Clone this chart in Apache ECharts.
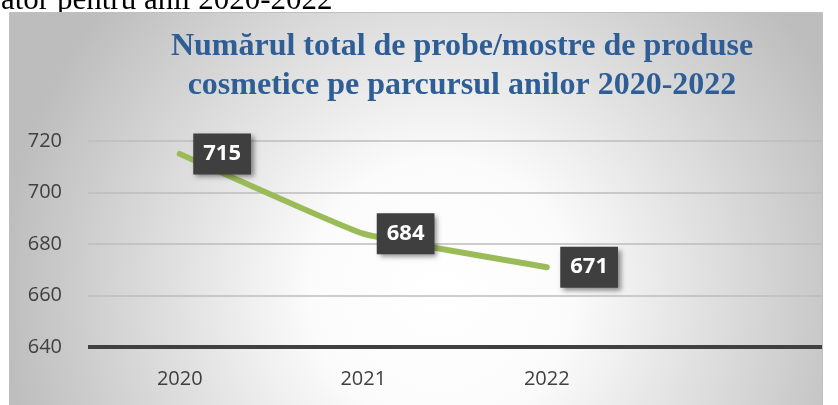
<!DOCTYPE html>
<html>
<head>
<meta charset="utf-8">
<script src="https://cdn.jsdelivr.net/npm/echarts@6/dist/echarts.min.js"></script>
<style>
  html, body { margin: 0; padding: 0; background: #fff; }
  #chart { width: 838px; height: 405px; }
</style>
</head>
<body>
<div id="chart"></div>
<script>
// date
var years = ['2020', '2021', '2022', ''];
var probe = [715, 684, 671];
var yTicks = { min: 640, max: 720, step: 20 };

var titlu = 'Numărul total de probe/mostre de produse\ncosmetice pe parcursul anilor 2020-2022';
var textSus = 'ator pentru anii 2020-2022';

var myChart = echarts.init(document.getElementById('chart'));

var option = {
    animation: false,
    title: {
        text: titlu,
        left: 462,
        top: 27,
        padding: 0,
        textAlign: 'center',
        textStyle: {
            fontFamily: '"Liberation Serif", "Times New Roman", serif',
            fontWeight: 'bold',
            fontSize: 32,
            lineHeight: 39,
            color: '#2f5e97'
        }
    },
    graphic: [
        {
            // textul paginii, taiat de chenarul graficului
            type: 'text',
            z: -200,
            x: 1,
            y: 0.5,
            style: {
                text: textSus,
                font: '31px "Liberation Serif", "Times New Roman", serif',
                fill: '#000',
                verticalAlign: 'middle'
            }
        },
        {
            type: 'rect',
            z: -100,
            shape: { x: 9.5, y: 12.5, width: 813, height: 400 },
            style: {
                fill: new echarts.graphic.RadialGradient(0.53, 0.7, 1.1, [
                    { offset: 0, color: '#ffffff' },
                    { offset: 0.3, color: '#fbfbfb' },
                    { offset: 1, color: '#bdbdbd' }
                ]),
                stroke: '#bfbfbf',
                lineWidth: 1
            }
        }
    ],
    grid: {
        left: 88,
        right: 16,
        top: 141,
        bottom: 58
    },
    xAxis: {
        type: 'category',
        data: years,
        boundaryGap: true,
        axisLine: { show: false },
        axisTick: { show: false },
        axisLabel: {
            margin: 22,
            color: '#404040',
            fontSize: 20,
            fontFamily: '"Open Sans", sans-serif'
        }
    },
    yAxis: {
        type: 'value',
        min: yTicks.min,
        max: yTicks.max,
        interval: yTicks.step,
        axisLine: { show: false },
        axisTick: { show: false },
        axisLabel: {
            margin: 26,
            color: '#404040',
            fontSize: 20,
            fontFamily: '"Open Sans", sans-serif'
        },
        splitLine: {
            lineStyle: { color: '#bcbcbc', width: 1.5 }
        }
    },
    series: [
        {
            type: 'line',
            data: probe,
            smooth: 0.1,
            symbol: 'circle',
            symbolSize: 1,
            itemStyle: { color: 'rgba(0,0,0,0)' },
            lineStyle: { color: '#9bbb59', width: 6, cap: 'round' },
            label: {
                show: true,
                position: 'right',
                distance: 13,
                color: '#fff',
                fontFamily: '"Open Sans", sans-serif',
                fontWeight: 'bold',
                fontSize: 22,
                lineHeight: 26,
                backgroundColor: '#3f3f3f',
                padding: [8, 10, 7, 10],
                shadowColor: 'rgba(0,0,0,0.45)',
                shadowBlur: 5,
                shadowOffsetX: 3,
                shadowOffsetY: 3
            },
            markLine: {
                silent: true,
                symbol: 'none',
                label: { show: false },
                lineStyle: { color: '#404040', width: 4, type: 'solid' },
                data: [{ yAxis: yTicks.min }]
            }
        }
    ]
};

myChart.setOption(option);
</script>
</body>
</html>
